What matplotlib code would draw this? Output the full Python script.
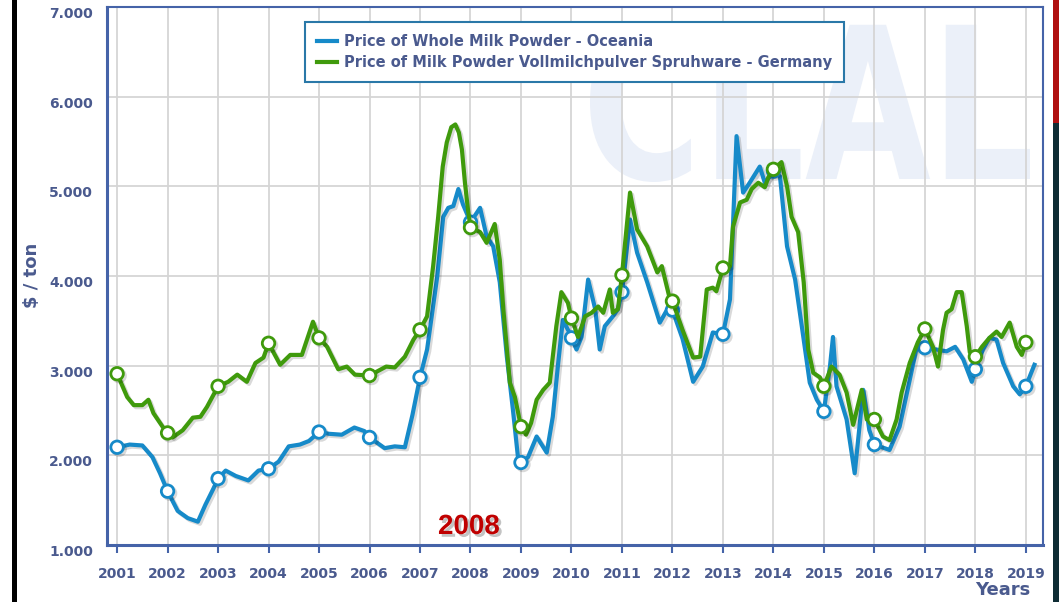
import numpy as np
import matplotlib
matplotlib.use("Agg")
import matplotlib.pyplot as plt
import matplotlib.patheffects as pe
from matplotlib.textpath import TextPath
from matplotlib.patches import PathPatch, Rectangle
from matplotlib.font_manager import FontProperties
from matplotlib.transforms import Affine2D, ScaledTranslation

# prices in thousands of $ / ton (labels use "." as thousands separator)
oce_x = [2001.0, 2001.25, 2001.5, 2001.7, 2001.85, 2002.0, 2002.2, 2002.4, 2002.6, 2002.75, 2002.9,
         2003.0, 2003.15, 2003.35, 2003.6, 2003.8, 2004.0, 2004.2, 2004.4, 2004.62, 2004.8,
         2005.0, 2005.2, 2005.45, 2005.7, 2005.9, 2006.0, 2006.3, 2006.5, 2006.7, 2006.85,
         2007.0, 2007.14, 2007.34, 2007.46, 2007.56, 2007.66, 2007.76, 2007.85,
         2008.0, 2008.19, 2008.32, 2008.45, 2008.58, 2008.72, 2008.84, 2008.94,
         2009.0, 2009.14, 2009.31, 2009.51, 2009.63, 2009.73, 2009.83, 2009.93,
         2010.0, 2010.1, 2010.2, 2010.33, 2010.47, 2010.56, 2010.66, 2010.82, 2010.92,
         2011.0, 2011.16, 2011.3, 2011.5, 2011.75, 2011.9,
         2012.0, 2012.2, 2012.41, 2012.6, 2012.8,
         2013.0, 2013.14, 2013.27, 2013.4, 2013.53, 2013.73, 2013.83, 2013.93,
         2014.0, 2014.13, 2014.27, 2014.43, 2014.58, 2014.72, 2014.86,
         2015.0, 2015.12, 2015.18, 2015.25, 2015.45, 2015.61, 2015.78, 2015.9,
         2016.0, 2016.3, 2016.5, 2016.7, 2016.84,
         2017.0, 2017.23, 2017.43, 2017.6, 2017.76, 2017.93,
         2018.0, 2018.15, 2018.28, 2018.42, 2018.55, 2018.75, 2018.88,
         2019.0, 2019.17]
oce_y = [2.09, 2.12, 2.11, 1.98, 1.80, 1.60, 1.38, 1.30, 1.26, 1.45, 1.62,
         1.74, 1.83, 1.77, 1.72, 1.83, 1.85, 1.93, 2.10, 2.12, 2.16,
         2.26, 2.24, 2.23, 2.31, 2.27, 2.20, 2.08, 2.10, 2.09, 2.45,
         2.87, 3.18, 3.99, 4.66, 4.76, 4.78, 4.97, 4.80,
         4.60, 4.76, 4.44, 4.33, 3.93, 3.10, 2.51, 1.98,
         1.92, 1.98, 2.21, 2.03, 2.43, 2.99, 3.51, 3.40,
         3.31, 3.18, 3.32, 3.96, 3.63, 3.18, 3.44, 3.55, 3.63,
         3.82, 4.63, 4.26, 3.93, 3.48, 3.63,
         3.62, 3.30, 2.82, 2.99, 3.37,
         3.35, 3.74, 5.56, 4.93, 5.04, 5.22, 5.04, 5.11,
         5.17, 5.11, 4.33, 3.96, 3.37, 2.81, 2.62,
         2.49, 2.99, 3.32, 2.77, 2.40, 1.80, 2.73, 2.28,
         2.12, 2.06, 2.32, 2.84, 3.21,
         3.20, 3.18, 3.16, 3.21, 3.07, 2.82,
         2.96, 3.18, 3.31, 3.29, 3.03, 2.77, 2.68,
         2.77, 3.01]

ger_x = [2001.0, 2001.2, 2001.33, 2001.5, 2001.62, 2001.72, 2001.9,
         2002.0, 2002.1, 2002.3, 2002.5, 2002.65, 2002.78,
         2003.0, 2003.2, 2003.38, 2003.57, 2003.74, 2003.9,
         2004.0, 2004.23, 2004.43, 2004.66, 2004.88,
         2005.0, 2005.16, 2005.38, 2005.55, 2005.71,
         2006.0, 2006.33, 2006.5, 2006.7, 2006.87,
         2007.0, 2007.14, 2007.26, 2007.36, 2007.45, 2007.53, 2007.62, 2007.7, 2007.77, 2007.83, 2007.89, 2007.95,
         2008.0, 2008.19, 2008.32, 2008.48, 2008.58, 2008.65, 2008.78, 2008.88,
         2009.0, 2009.1, 2009.2, 2009.31, 2009.44, 2009.57, 2009.7, 2009.8, 2009.93,
         2010.0, 2010.13, 2010.27, 2010.4, 2010.53, 2010.63, 2010.76, 2010.82, 2010.92,
         2011.0, 2011.16, 2011.3, 2011.5, 2011.7, 2011.79, 2011.95,
         2012.0, 2012.2, 2012.41, 2012.55, 2012.68, 2012.8, 2012.87,
         2013.0, 2013.14, 2013.2, 2013.34, 2013.47, 2013.57, 2013.7, 2013.83, 2013.9,
         2014.0, 2014.16, 2014.27, 2014.36, 2014.49, 2014.6, 2014.69, 2014.79, 2014.92,
         2015.0, 2015.15, 2015.31, 2015.45, 2015.58, 2015.75, 2015.85,
         2016.0, 2016.17, 2016.3, 2016.44, 2016.54, 2016.7, 2016.86,
         2017.0, 2017.16, 2017.26, 2017.36, 2017.43, 2017.53, 2017.63, 2017.73, 2017.83, 2017.89,
         2018.0, 2018.13, 2018.28, 2018.42, 2018.52, 2018.68, 2018.82, 2018.92,
         2019.0]
ger_y = [2.91, 2.65, 2.56, 2.56, 2.62, 2.47, 2.32,
         2.25, 2.20, 2.28, 2.42, 2.43, 2.54,
         2.77, 2.82, 2.90, 2.82, 3.03, 3.09,
         3.25, 3.01, 3.12, 3.12, 3.49,
         3.31, 3.21, 2.96, 2.99, 2.90,
         2.89, 2.99, 2.98, 3.10, 3.29,
         3.40, 3.55, 4.11, 4.66, 5.22, 5.49, 5.66, 5.69, 5.60, 5.41, 5.04, 4.74,
         4.54, 4.49, 4.37, 4.58, 4.18, 3.63, 2.81, 2.65,
         2.32, 2.23, 2.36, 2.62, 2.73, 2.81, 3.44, 3.82, 3.70,
         3.53, 3.32, 3.55, 3.59, 3.66, 3.59, 3.85, 3.59, 3.63,
         4.01, 4.93, 4.52, 4.33, 4.04, 4.11, 3.74,
         3.72, 3.40, 3.09, 3.10, 3.85, 3.87, 3.83,
         4.09, 4.11, 4.55, 4.82, 4.85, 4.97, 5.04, 4.99, 5.10,
         5.19, 5.27, 5.00, 4.66, 4.49, 3.93, 3.18, 2.92, 2.87,
         2.77, 2.99, 2.90, 2.70, 2.34, 2.73, 2.40,
         2.40, 2.21, 2.17, 2.40, 2.70, 3.03, 3.26,
         3.41, 3.21, 2.99, 3.40, 3.59, 3.63, 3.82, 3.82, 3.44, 3.15,
         3.10, 3.21, 3.31, 3.38, 3.32, 3.48, 3.21, 3.12,
         3.26]

years = list(range(2001, 2020))
y_ticks = [1, 2, 3, 4, 5, 6, 7]
names = ["Price of Whole Milk Powder - Oceania",
         "Price of Milk Powder Vollmilchpulver Spruhware - Germany"]

blue = "#168ac9"
green = "#3f9a0c"
txt = "#4a5a8e"
frame = "#4563a8"


def year_marks(xs):
    return [i for i, v in enumerate(xs) if abs(v - round(v)) < 1e-6]


fig = plt.figure(figsize=(10.59, 6.02), dpi=100)
ax = fig.add_axes([107 / 1059, 57 / 602, 936 / 1059, 538 / 602])

# CLAL watermark behind the grid
tp = TextPath((0, 0), "CLAL", size=1, prop=FontProperties(family="DejaVu Sans", weight="bold"))
bb = tp.get_extents()
wm = Affine2D().translate(-bb.x0, -bb.y0).scale(440 / bb.width, 160 / bb.height).translate(590, 420)
ax.add_patch(PathPatch(tp, transform=wm, facecolor="#ebf0f9", edgecolor="none", zorder=0.5))

shadow = [pe.SimpleLineShadow(offset=(1.5, -1.5), alpha=0.15), pe.Normal()]
ax.plot(oce_x, oce_y, color=blue, lw=3, marker="o", markevery=year_marks(oce_x),
        markersize=9, markerfacecolor="white", markeredgecolor=blue, markeredgewidth=2,
        solid_joinstyle="round", path_effects=shadow, zorder=3)
ax.plot(ger_x, ger_y, color=green, lw=3, marker="o", markevery=year_marks(ger_x),
        markersize=9, markerfacecolor="white", markeredgecolor=green, markeredgewidth=2,
        solid_joinstyle="round", path_effects=shadow, zorder=4)

ax.set_xlim(2000.80, 2019.34)
ax.set_ylim(1, 7)
ax.set_xticks(years)
ax.set_yticks(y_ticks)
ax.set_yticklabels([f"{v:.3f}" for v in y_ticks])
ax.grid(True, color="#d5d5d5", lw=1.3)
ax.tick_params(axis="x", length=6, width=1.5, color=frame, pad=10, labelsize=10, labelcolor=txt)
ax.tick_params(axis="y", length=0, pad=10, labelsize=10, labelcolor=txt)
for lab in ax.get_xticklabels() + ax.get_yticklabels():
    lab.set_fontweight("bold")
for lab in ax.get_yticklabels():
    lab.set_transform(lab.get_transform() + ScaledTranslation(0, -4 / 72, fig.dpi_scale_trans))
for s in ["left", "bottom"]:
    ax.spines[s].set_linewidth(2.2)
for s in ["top", "right"]:
    ax.spines[s].set_linewidth(1.5)
for s in ax.spines.values():
    s.set_color(frame)

h1, = ax.plot([], [], color=blue, lw=3)
h2, = ax.plot([], [], color=green, lw=3)
leg = fig.legend([h1, h2], names, loc="upper left", bbox_to_anchor=(305 / 1059, 1 - 22 / 602),
                 borderaxespad=0, prop={"weight": "bold", "size": 10.5}, frameon=True,
                 fancybox=False, edgecolor="#2a78a8", framealpha=1, borderpad=0.8,
                 labelspacing=0.45, handlelength=1.4, handletextpad=0.5)
leg.get_frame().set_linewidth(1.5)
for t in leg.get_texts():
    t.set_color(txt)

fig.text(32 / 1059, 1 - 275 / 602, "$ / ton", rotation=90, ha="center", va="center",
         fontsize=13, fontweight="bold", color=txt)
fig.text(1030 / 1059, 1 - 590 / 602, "Years", ha="right", va="center",
         fontsize=13, fontweight="bold", color=txt)
fig.text(469 / 1059, 1 - 527 / 602, "2008", ha="center", va="center", fontsize=20,
         family="Liberation Sans", fontweight="bold", color="#c00000",
         path_effects=[pe.withSimplePatchShadow(offset=(2, -2), shadow_rgbFace="#888888", alpha=0.5)])

# screenshot edges
fig.patches.append(Rectangle((12 / 1059, 0), 5 / 1059, 1, transform=fig.transFigure,
                             facecolor="black", edgecolor="none"))
fig.patches.append(Rectangle((1053 / 1059, 1 - 123 / 602), 6 / 1059, 123 / 602,
                             transform=fig.transFigure, facecolor="#b01010", edgecolor="none"))
fig.patches.append(Rectangle((1053 / 1059, 0), 6 / 1059, 1 - 123 / 602,
                             transform=fig.transFigure, facecolor="#0e2c34", edgecolor="none"))

fig.savefig("out.png", dpi=100)
